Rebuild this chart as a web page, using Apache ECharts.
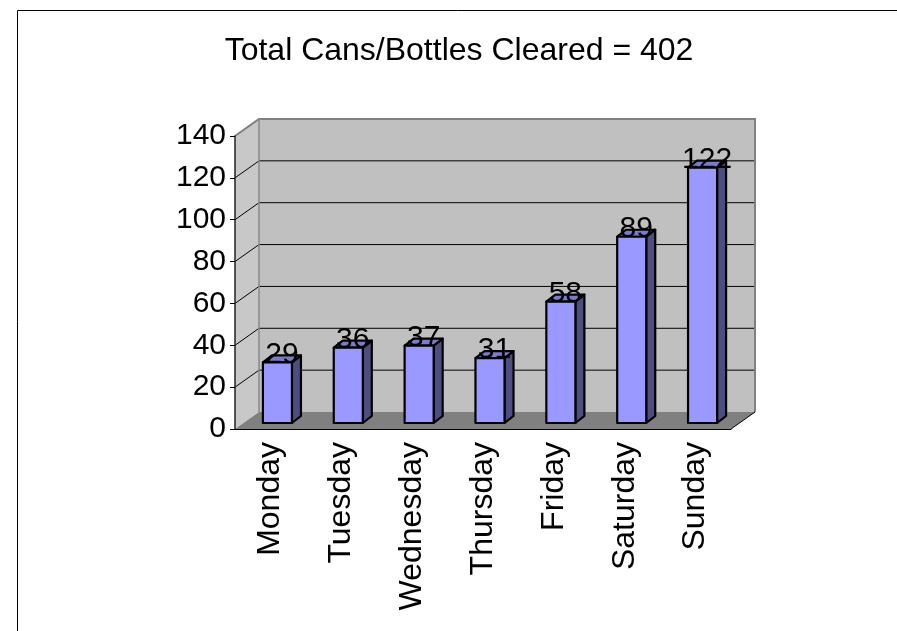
<!DOCTYPE html>
<html><head><meta charset="utf-8">
<script src="https://cdn.jsdelivr.net/npm/echarts@6/dist/echarts.min.js"></script>
<style>html,body{margin:0;padding:0;background:#fff}#c{width:897px;height:631px}</style>
</head><body><div id="c"></div>
<script>
const titleText = 'Total Cans/Bottles Cleared = 402';
const categories = ['Monday','Tuesday','Wednesday','Thursday','Friday','Saturday','Sunday'];
const values = [29, 36, 37, 31, 58, 89, 122];
const yTicks = [0, 20, 40, 60, 80, 100, 120, 140];

const FONT = '"Liberation Sans", Arial, sans-serif';
const DX = 24, DY = -17;          // wall depth offset
const BOX = 7, BOY = -6;          // bar front-plane offset
const BDX = 9, BDY = -7;          // bar depth
const BAR_W_RATIO = 0.41;
const Y_MAX = yTicks[yTicks.length - 1];

const chart = echarts.init(document.getElementById('c'), null, {renderer: 'canvas'});

function wallsRender(params, api) {
  const cs = params.coordSys;
  const x0 = cs.x, x1 = cs.x + cs.width;
  const yOf = v => api.coord([0, v])[1];
  const y0 = yOf(0), yT = yOf(Y_MAX);
  const ch = [];
  ch.push({type: 'polygon', shape: {points: [[x0 + DX, yT + DY], [x1 + DX, yT + DY], [x1 + DX, y0 + DY], [x0 + DX, y0 + DY]]},
    style: {fill: '#c0c0c0'}});
  ch.push({type: 'polygon', shape: {points: [[x0, yT], [x0 + DX, yT + DY], [x0 + DX, y0 + DY], [x0, y0]]},
    style: {fill: '#c8c8c8'}});
  ch.push({type: 'polygon', shape: {points: [[x0, y0], [x0 + DX, y0 + DY], [x1 + DX, y0 + DY], [x1, y0]]},
    style: {fill: '#808080'}});
  yTicks.forEach(v => {
    if (v === 0 || v === Y_MAX) return;
    const y = yOf(v);
    ch.push({type: 'line', shape: {x1: x0 + DX, y1: y + DY, x2: x1 + DX, y2: y + DY}, style: {stroke: '#000', lineWidth: 1}});
    ch.push({type: 'line', shape: {x1: x0, y1: y, x2: x0 + DX, y2: y + DY}, style: {stroke: '#000', lineWidth: 1}});
  });
  ch.push({type: 'polyline', shape: {points: [[x0, yT], [x0 + DX, yT + DY], [x1 + DX, yT + DY], [x1 + DX, y0 + DY]]},
    style: {stroke: '#808080', lineWidth: 2, fill: null}});
  ch.push({type: 'line', shape: {x1: x0 + DX, y1: yT + DY, x2: x0 + DX, y2: y0 + DY}, style: {stroke: '#8a8a8a', lineWidth: 1.5}});
  ch.push({type: 'line', shape: {x1: x1, y1: y0, x2: x1 + DX, y2: y0 + DY}, style: {stroke: '#000', lineWidth: 1}});
  return {type: 'group', children: ch};
}

function barRender(params, api) {
  const i = api.value(0), v = api.value(1);
  const c = api.coord([i, v]);
  const b = api.coord([i, 0]);
  const bw = api.size([1, 0])[0] * BAR_W_RATIO;
  const xl = c[0] + BOX - bw / 2, xr = xl + bw;
  const yt = c[1] + BOY, yb = b[1] + BOY;
  const st = {stroke: '#000', lineWidth: 2.2, lineJoin: 'round'};
  return {type: 'group', children: [
    {type: 'polygon', shape: {points: [[xr, yt], [xr + BDX, yt + BDY], [xr + BDX, yb + BDY], [xr, yb]]},
      style: Object.assign({fill: '#4d4d80'}, st)},
    {type: 'polygon', shape: {points: [[xl, yt], [xl + BDX, yt + BDY], [xr + BDX, yt + BDY], [xr, yt]]},
      style: Object.assign({fill: '#7b7bcc'}, st)},
    {type: 'rect', shape: {x: xl, y: yt, width: bw, height: yb - yt},
      style: Object.assign({fill: '#9999ff'}, st)},
    {type: 'text', x: c[0] + BOX + BDX / 2, y: yt + 7,
      style: {text: String(v), fill: '#000', font: '30px ' + FONT, textAlign: 'center', textVerticalAlign: 'bottom'}, z2: 10}
  ]};
}

chart.setOption({
  animation: false,
  backgroundColor: '#fff',
  title: {text: titleText, left: 459, textAlign: 'center', top: 35, padding: 0,
    textStyle: {fontFamily: FONT, fontSize: 32, fontWeight: 'normal', color: '#000'}},
  graphic: [{type: 'rect', shape: {x: 17.5, y: 10.5, width: 900, height: 700}, style: {fill: null, stroke: '#000', lineWidth: 1}, z: 100}],
  grid: {left: 235, right: 166, top: 136, bottom: 202, containLabel: false},
  xAxis: {type: 'category', data: categories,
    axisLine: {lineStyle: {color: '#000', width: 1}}, axisTick: {length: 6, lineStyle: {color: '#000'}},
    axisLabel: {rotate: 90, fontFamily: FONT, fontSize: 32, color: '#000', margin: 13},
    splitLine: {show: false}, z: 5},
  yAxis: {type: 'value', min: 0, max: Y_MAX, interval: 20,
    axisLine: {show: true, lineStyle: {color: '#222', width: 1.5}}, axisTick: {show: true, length: 5, lineStyle: {color: '#000'}},
    axisLabel: {fontFamily: FONT, fontSize: 30, color: '#000', margin: 9},
    splitLine: {show: false}, z: 5},
  series: [
    {type: 'custom', renderItem: wallsRender, data: [[0, 0]], clip: false, z: 1, silent: true},
    {type: 'custom', renderItem: barRender, data: values.map((v, i) => [i, v]), clip: false, z: 3, silent: true}
  ]
});
</script></body></html>
